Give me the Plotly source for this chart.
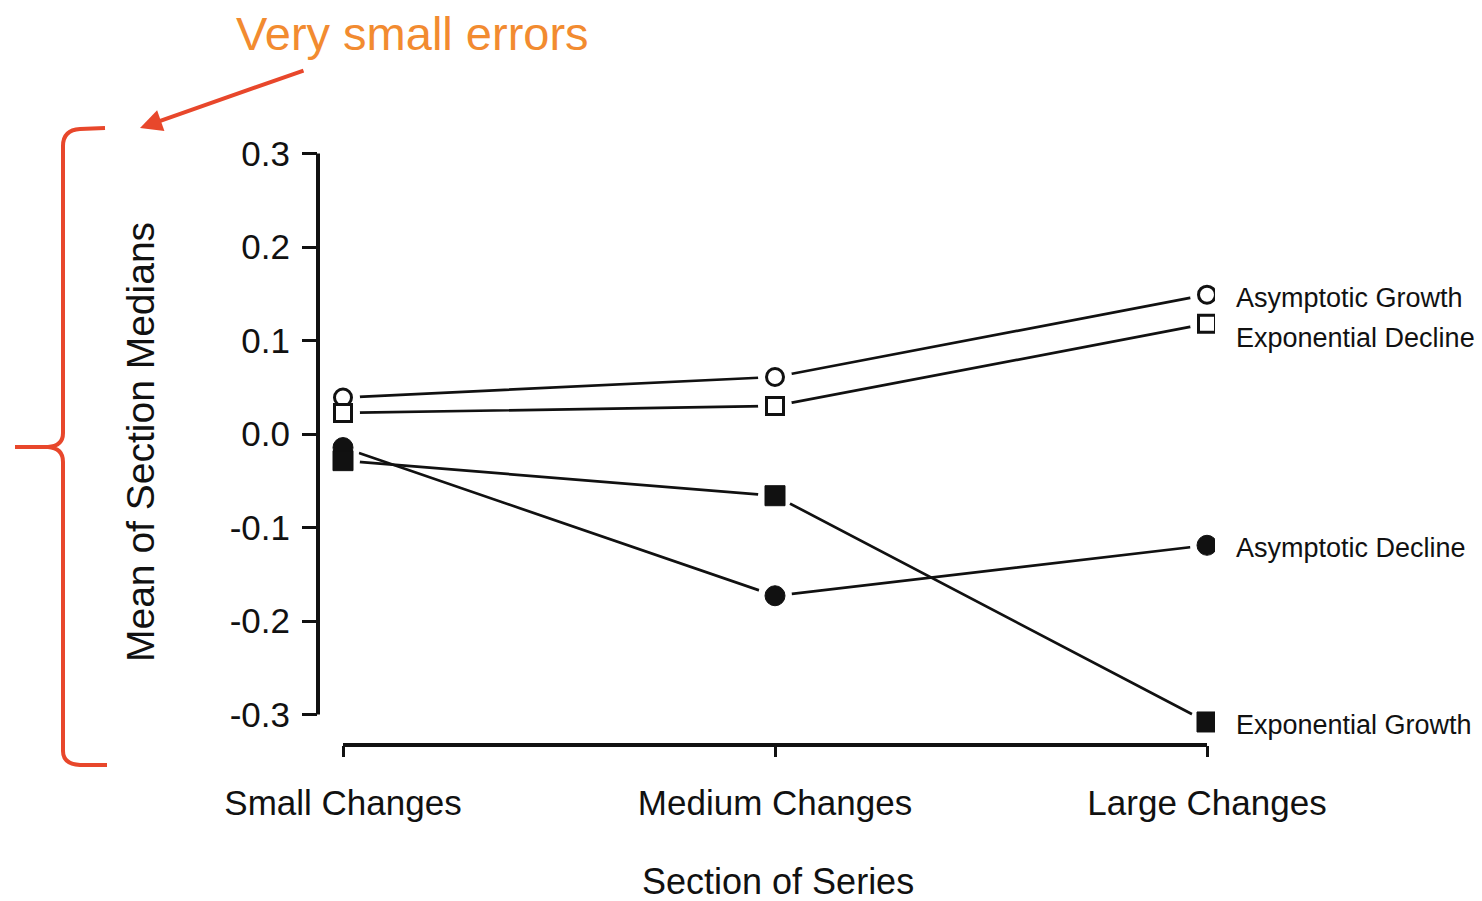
import plotly.graph_objects as go

# Sections of the series (x categories)
sections = ["Small Changes", "Medium Changes", "Large Changes"]

# Mean of section medians for each series type
asymptotic_growth = [0.039, 0.061, 0.149]
exponential_decline = [0.0225, 0.030, 0.118]
asymptotic_decline = [-0.0145, -0.173, -0.119]
exponential_growth = [-0.0285, -0.066, -0.308]

series_names = ["Asymptotic Growth", "Exponential Decline",
                "Asymptotic Decline", "Exponential Growth"]

y_tick_values = [-0.3, -0.2, -0.1, 0.0, 0.1, 0.2, 0.3]
y_tick_labels = ["-0.3", "-0.2", "-0.1", "0.0", "0.1", "0.2", "0.3"]

W, H = 1482, 901
ML, MR, MT, MB = 318, 267, 140, 156
PW, PH = W - ML - MR, H - MT - MB

FONT = "Liberation Sans, Arial, Helvetica, sans-serif"
INK = "#111111"
RED = "#E8472B"
ORANGE = "#F28B30"


def px(x):
    return (x - ML) / PW


def py(y):
    return (H - MB - y) / PH


series = [
    (series_names[0], asymptotic_growth, "circle", "white"),
    (series_names[1], exponential_decline, "square", "white"),
    (series_names[2], asymptotic_decline, "circle", INK),
    (series_names[3], exponential_growth, "square", INK),
]

fig = go.Figure()

# connecting lines
for name, vals, sym, fill in series:
    fig.add_trace(go.Scatter(x=sections, y=vals, mode="lines",
                             line=dict(color=INK, width=2.7),
                             showlegend=False, hoverinfo="skip"))

# white halos leave a small gap between each line and its marker
for name, vals, sym, fill in series:
    fig.add_trace(go.Scatter(x=sections, y=vals, mode="markers",
                             marker=dict(symbol="circle", size=34, color="white",
                                         line=dict(width=0)),
                             showlegend=False, hoverinfo="skip"))

# markers
for name, vals, sym, fill in series:
    fig.add_trace(go.Scatter(
        x=sections, y=vals, mode="markers", name=name,
        marker=dict(symbol=sym, size=17 if fill == "white" else 20, color=fill,
                    line=dict(color=INK, width=3 if fill == "white" else 1)),
        showlegend=False))

# series labels beside the last point
label_shift = {series_names[0]: -3, series_names[1]: -14,
               series_names[2]: -3, series_names[3]: -3}
for name, vals, sym, fill in series:
    fig.add_annotation(x=sections[-1], y=vals[-1], text=name, showarrow=False,
                       xanchor="left", yanchor="middle", xshift=27,
                       yshift=label_shift[name],
                       font=dict(family=FONT, size=27, color=INK))

shapes = []
# vertical axis line between -0.3 and 0.3
shapes.append(dict(type="line", xref="paper", yref="y", x0=0, x1=0,
                   y0=y_tick_values[0], y1=y_tick_values[-1],
                   line=dict(color=INK, width=4)))
# horizontal axis line from first to last section
shapes.append(dict(type="line", xref="x", yref="paper", x0=0, x1=len(sections) - 1,
                   y0=0, y1=0, line=dict(color=INK, width=4)))

# curly brace on the left
pts = [
    ("M", [(105, 128)]), ("L", [(80, 129)]), ("Q", [(63, 130), (63, 146)]),
    ("L", [(63, 433)]), ("Q", [(63, 446), (48, 447)]), ("L", [(15, 447)]),
    ("M", [(48, 447)]), ("Q", [(63, 448), (63, 462)]), ("L", [(63, 751)]),
    ("Q", [(63, 764), (80, 765)]), ("L", [(107, 765)]),
]
path = " ".join(cmd + " " + " ".join(f"{px(a):.5f},{py(b):.5f}" for a, b in p)
                for cmd, p in pts)
shapes.append(dict(type="path", xref="paper", yref="paper", path=path,
                   line=dict(color=RED, width=4)))

fig.update_layout(shapes=shapes)

# callout text and arrow
fig.add_annotation(xref="paper", yref="paper", x=px(412), y=py(33),
                   xanchor="center", yanchor="middle",
                   text="Very small errors", showarrow=False,
                   font=dict(family=FONT, size=47, color=ORANGE))
fig.add_annotation(xref="paper", yref="paper", x=px(140), y=py(128), text="",
                   showarrow=True, ax=165, ay=-58, arrowhead=2, arrowsize=1.1,
                   arrowwidth=4, arrowcolor=RED)

# axis titles
fig.add_annotation(xref="paper", yref="paper", x=px(140), y=py(442),
                   xanchor="center", yanchor="middle",
                   text="Mean of Section Medians", textangle=-90, showarrow=False,
                   font=dict(family=FONT, size=39, color=INK))
fig.add_annotation(xref="paper", yref="paper", x=px(778), y=py(881),
                   xanchor="center", yanchor="middle",
                   text="Section of Series", showarrow=False,
                   font=dict(family=FONT, size=36, color=INK))

fig.update_xaxes(type="category", range=[-25 / 432, 2 + 8 / 432],
                 showgrid=False, zeroline=False, showline=False,
                 ticks="outside", ticklen=11, tickwidth=3, tickcolor=INK,
                 tickfont=dict(family=FONT, size=35, color=INK),
                 ticklabelstandoff=16)
fig.update_yaxes(range=[(434 - 745) / 935, (434 - 140) / 935],
                 showgrid=False, zeroline=False, showline=False,
                 tickvals=y_tick_values, ticktext=y_tick_labels,
                 ticks="outside", ticklen=15, tickwidth=3, tickcolor=INK,
                 tickfont=dict(family=FONT, size=35, color=INK),
                 ticklabelstandoff=5)

fig.update_layout(width=W, height=H,
                  margin=dict(l=ML, r=MR, t=MT, b=MB, autoexpand=False),
                  plot_bgcolor="white", paper_bgcolor="white",
                  showlegend=False)

fig.write_html("out.html")
